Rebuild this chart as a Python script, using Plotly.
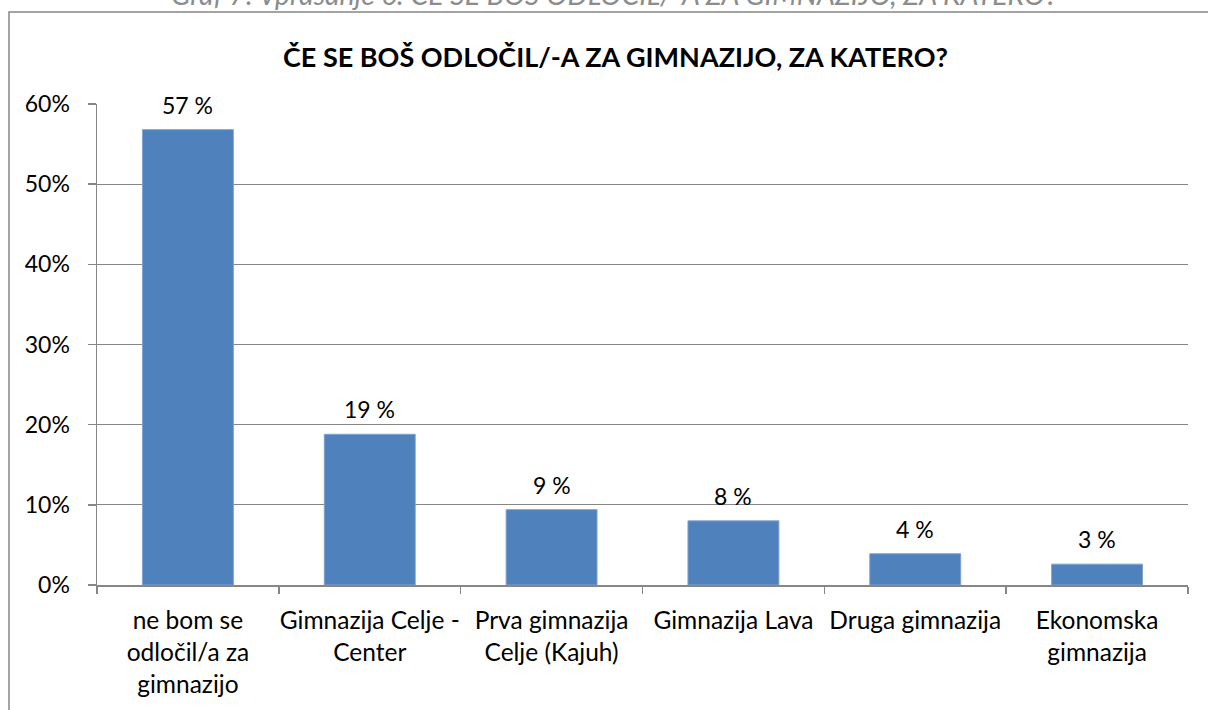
import plotly.graph_objects as go

categories = [
    "ne bom se<br>odločil/a za<br>gimnazijo",
    "Gimnazija Celje -<br>Center",
    "Prva gimnazija<br>Celje (Kajuh)",
    "Gimnazija Lava",
    "Druga gimnazija",
    "Ekonomska<br>gimnazija",
]
values = [0.568, 0.188, 0.094, 0.080, 0.039, 0.026]
y_ticks = [0, 0.1, 0.2, 0.3, 0.4, 0.5, 0.6]
y_tick_labels = ["0%", "10%", "20%", "30%", "40%", "50%", "60%"]
title_text = "ČE SE BOŠ ODLOČIL/-A ZA GIMNAZIJO, ZA KATERO?"
caption_text = "Graf 7: Vprašanje 6: ČE SE BOŠ ODLOČIL/-A ZA GIMNAZIJO, ZA KATERO?"

W, H = 1208, 710
L, R, T, B = 97, 20, 104, 125
pw, ph = W - L - R, H - T - B

def px_x(p):
    return (p - L) / pw

def px_y(p):
    return 1 + (T - p) / ph

FONT = "Lato, Calibri, Carlito, sans-serif"
GRID = "#868686"
TICK_SIZE = 23

fig = go.Figure()
fig.add_trace(go.Bar(
    x=categories,
    y=values,
    width=0.5,
    marker=dict(color="#4F81BD", line=dict(color="#7FA3D0", width=1)),
    hoverinfo="skip",
))

for c, v in zip(categories, values):
    fig.add_annotation(
        x=c, y=v, xref="x", yref="y",
        text=f"{round(v * 100)} %",
        showarrow=False, yanchor="bottom", yshift=9,
        font=dict(family=FONT, size=TICK_SIZE, color="#000000"),
    )

fig.add_annotation(
    x=px_x(615), y=px_y(56), xref="paper", yref="paper",
    text=f"<b>{title_text}</b>", showarrow=False,
    xanchor="center", yanchor="middle",
    font=dict(family=FONT, size=27, color="#000000"),
)
fig.add_annotation(
    x=px_x(614), y=px_y(13), xref="paper", yref="paper",
    text=f"<i>{caption_text}</i>", showarrow=False,
    xanchor="center", yanchor="bottom",
    font=dict(family=FONT, size=28.5, color="#8C8C8C"),
)

fig.add_shape(
    type="rect", xref="paper", yref="paper",
    x0=px_x(9), x1=px_x(W + 20), y0=px_y(H + 20), y1=px_y(12),
    line=dict(color="#868686", width=1.5), fillcolor="rgba(0,0,0,0)",
    layer="below",
)

fig.update_layout(
    width=W, height=H,
    margin=dict(l=L, r=R, t=T, b=B),
    paper_bgcolor="#FFFFFF", plot_bgcolor="#FFFFFF",
    font=dict(family=FONT, size=TICK_SIZE, color="#000000"),
    showlegend=False,
    bargap=0.5,
)
fig.update_xaxes(
    showline=True, linecolor=GRID, linewidth=1.5,
    ticks="outside", tickson="boundaries", ticklen=7, tickcolor=GRID, tickwidth=1.5,
    tickfont=dict(family=FONT, size=24.5, color="#000000"),
    ticklabelstandoff=13,
    showgrid=False, fixedrange=True, tickangle=0,
)
fig.update_yaxes(
    range=[0, 0.6], tickvals=y_ticks, ticktext=y_tick_labels,
    showgrid=True, gridcolor=GRID, gridwidth=1,
    showline=True, linecolor=GRID, linewidth=1.5,
    ticks="outside", ticklen=8, tickcolor=GRID, tickwidth=1.5,
    tickfont=dict(family=FONT, size=TICK_SIZE, color="#000000"),
    ticklabelstandoff=13,
    zeroline=False, fixedrange=True,
)

fig.write_html(
    "out.html",
    config={"displayModeBar": False, "staticPlot": True},
    post_script="document.body.style.margin='0';document.body.style.overflow='hidden';",
)
